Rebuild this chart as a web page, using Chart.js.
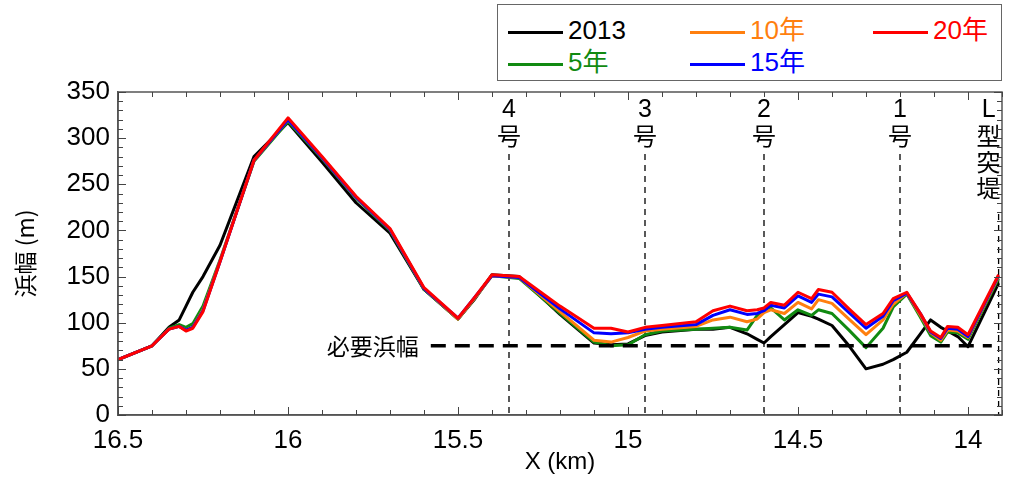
<!DOCTYPE html>
<html>
<head>
<meta charset="utf-8">
<script src="https://cdn.jsdelivr.net/npm/chart.js@4"></script>
<style>
    body { margin: 0; background: #fff; }
    #wrap { position: relative; width: 1011px; height: 486px; }
    #legend {
        position: absolute; left: 497px; top: 4px; width: 505px; height: 77px;
        border: 1.5px solid #666; box-sizing: border-box; background: #fff;
        font-family: 'Liberation Sans', Arial, 'Noto Sans CJK JP', sans-serif; font-size: 26px;
    }
    .item { position: absolute; height: 30px; line-height: 30px; white-space: nowrap; }
    .item .swatch { display: inline-block; width: 55px; height: 0; border-top: 3px solid; vertical-align: middle; margin-right: 5px; }
</style>
</head>
<body>
<div id="wrap">
    <canvas id="chart" width="1011" height="486"></canvas>
    <div id="legend"></div>
</div>
<script>
// Données (X en km, largeur de plage en m)
const xKm = [16.5, 16.4, 16.35, 16.32, 16.3, 16.28, 16.25, 16.2, 16.1, 16.0, 15.9, 15.8, 15.7, 15.6, 15.5, 15.45, 15.4, 15.32,
    15.2, 15.1, 15.05, 15.0, 14.95, 14.9, 14.8, 14.75, 14.7, 14.65, 14.62, 14.6, 14.58, 14.54, 14.5, 14.46, 14.44, 14.4, 14.35, 14.3,
    14.25, 14.22, 14.18, 14.14, 14.11, 14.08, 14.06, 14.03, 14.0, 13.91];

const width2013 = [60, 75, 95, 103, 118, 133, 150, 184, 280, 317, 274, 230, 197, 136, 104, 126, 152, 150,
    109, 78, 76, 77, 86, 90, 93, 93, 95, 88, 82, 78, 85, 98, 111, 107, 104, 97, 75, 50,
    55, 60, 68, 88, 103, 95, 91, 85, 74, 143];
const width5y = [60, 75, 94, 98, 95, 99, 118, 168, 275, 318, 278, 235, 200, 136, 104, 127, 151, 148,
    110, 79, 75, 76, 87, 91, 93, 94, 95, 92, 108, 115, 116, 103, 114, 108, 114, 110, 92, 73,
    94, 117, 131, 106, 86, 79, 90, 89, 82, 148];
const width10y = [60, 75, 93, 96, 92, 95, 114, 167, 276, 320, 279, 236, 201, 137, 104, 127, 151, 149,
    112, 81, 79, 84, 91, 93, 96, 103, 106, 101, 104, 111, 114, 110, 122, 115, 125, 121, 104, 87,
    103, 120, 132, 108, 89, 81, 92, 91, 84, 150];
const width15y = [60, 75, 93, 96, 92, 95, 113, 166, 276, 320, 279, 236, 201, 137, 105, 128, 151, 149,
    115, 89, 88, 89, 93, 95, 98, 108, 114, 109, 110, 113, 119, 116, 129, 122, 131, 128, 111, 94,
    107, 124, 132, 110, 90, 83, 94, 93, 85, 151];
const width20y = [60, 75, 93, 96, 91, 94, 112, 166, 276, 322, 280, 237, 202, 138, 105, 128, 152, 150,
    118, 94, 94, 90, 95, 97, 101, 113, 118, 113, 114, 116, 122, 119, 133, 126, 136, 133, 115, 98,
    110, 126, 133, 110, 91, 84, 96, 95, 87, 152];

const xTickValues = [16.5, 16, 15.5, 15, 14.5, 14];

// Largeur nécessaire
const requiredLabel = '必要浜幅';
const requiredKm = [15.58, 13.93];
const requiredWidth = 75;

// Ouvrages (épis)
const structKm = [15.35, 14.95, 14.6, 14.2, 13.91];
const structLabels = [['4', '号'], ['3', '号'], ['2', '号'], ['1', '号'], ['L', '型', '突', '堤']];

const series = [
    { label: '2013', data: width2013, color: '#000000', order: 5 },
    { label: '5年', data: width5y, color: '#118a11', order: 4 },
    { label: '10年', data: width10y, color: '#ff7f0f', order: 3 },
    { label: '15年', data: width15y, color: '#0000ff', order: 2 },
    { label: '20年', data: width20y, color: '#ff0000', order: 1 }
];

const FONT_LATIN = "'Liberation Sans', Arial, sans-serif";
const FONT_JP = "'Noto Sans CJK JP', 'Liberation Sans', sans-serif";

// Cadre, graduations internes et annotations
const framePlugin = {
    id: 'frame',
    beforeDatasetsDraw(chart) {
        const { ctx, chartArea: a, scales: { x, y } } = chart;
        ctx.save();
        // lignes verticales des ouvrages
        ctx.strokeStyle = '#000';
        ctx.lineWidth = 1.3;
        ctx.setLineDash([6, 5]);
        structKm.forEach((km, i) => {
            const px = x.getPixelForValue(km);
            const startY = structLabels[i].length > 2 ? 214 : 154;
            ctx.beginPath();
            ctx.moveTo(px, startY);
            ctx.lineTo(px, a.bottom);
            ctx.stroke();
        });
        ctx.setLineDash([]);
        ctx.fillStyle = '#000';
        ctx.textAlign = 'center';
        ctx.textBaseline = 'middle';
        structKm.forEach((km, i) => {
            // le libellé du突堤 est décalé pour rester dans le cadre
            const px = x.getPixelForValue(km) - (structLabels[i].length > 2 ? 10 : 0);
            structLabels[i].forEach((ch, j) => {
                const isLatin = /[0-9A-Z]/.test(ch);
                ctx.font = isLatin ? '25px ' + FONT_LATIN : '24px ' + FONT_JP;
                ctx.fillText(ch, px, 110 + j * 26);
            });
        });
        // libellé largeur nécessaire
        ctx.font = '23px ' + FONT_JP;
        ctx.textAlign = 'right';
        ctx.fillText(requiredLabel, x.getPixelForValue(requiredKm[0]) - 12, y.getPixelForValue(requiredWidth));
        ctx.restore();
    },
    afterDraw(chart) {
        const { ctx, chartArea: a, scales: { x, y } } = chart;
        ctx.save();
        ctx.strokeStyle = '#555';
        ctx.lineWidth = 1.5;
        ctx.strokeRect(a.left, a.top, a.right - a.left, a.bottom - a.top);
        ctx.strokeStyle = '#444';
        ctx.lineWidth = 1;
        ctx.beginPath();
        for (let v = 0; v <= 350; v += 10) {
            const py = Math.round(y.getPixelForValue(v)) + 0.5;
            const len = v % 50 === 0 ? 8 : 5;
            ctx.moveTo(a.left, py); ctx.lineTo(a.left + len, py);
            ctx.moveTo(a.right, py); ctx.lineTo(a.right - len, py);
        }
        for (let k = 139; k <= 165; k++) {
            const px = Math.round(x.getPixelForValue(k / 10)) + 0.5;
            const len = k % 5 === 0 ? 8 : 5;
            ctx.moveTo(px, a.bottom); ctx.lineTo(px, a.bottom - len);
            ctx.moveTo(px, a.top); ctx.lineTo(px, a.top + len);
        }
        ctx.stroke();
        ctx.restore();
    }
};

const datasets = series.map(s => ({
    label: s.label,
    data: xKm.map((km, i) => ({ x: km, y: s.data[i] })),
    borderColor: s.color,
    borderWidth: 3,
    pointRadius: 0,
    tension: 0,
    borderJoinStyle: 'round',
    order: s.order
}));

datasets.push({
    label: requiredLabel,
    data: requiredKm.map(km => ({ x: km, y: requiredWidth })),
    borderColor: '#000',
    borderWidth: 3.5,
    borderDash: [15, 9],
    pointRadius: 0,
    order: 0
});

new Chart(document.getElementById('chart'), {
    type: 'line',
    data: { datasets: datasets },
    plugins: [framePlugin],
    options: {
        responsive: false,
        animation: false,
        layout: { padding: { top: 92, right: 9, left: 0, bottom: 0 } },
        plugins: { legend: { display: false }, tooltip: { enabled: false } },
        scales: {
            x: {
                type: 'linear',
                reverse: true,
                min: 13.9,
                max: 16.5,
                afterBuildTicks: scale => { scale.ticks = xTickValues.map(v => ({ value: v })); },
                afterFit: scale => { scale.height = 71; },
                grid: { display: false, drawTicks: false },
                border: { display: true, color: '#555', width: 1.5 },
                ticks: {
                    autoSkip: false, maxRotation: 0, padding: 10, color: '#000',
                    font: { family: FONT_LATIN, size: 26 },
                    callback: v => String(v)
                },
                title: {
                    display: true, text: 'X (km)', color: '#000',
                    font: { family: FONT_LATIN, size: 24 },
                    padding: { top: 0, bottom: 9 }
                }
            },
            y: {
                min: 0,
                max: 350,
                afterFit: scale => { scale.width = 118; },
                grid: { display: false, drawTicks: false },
                border: { display: true, color: '#555', width: 1.5 },
                ticks: {
                    stepSize: 50, padding: 8, color: '#000',
                    font: { family: FONT_LATIN, size: 26 }
                },
                title: {
                    display: true, text: '浜幅 (m)', color: '#000',
                    font: { family: FONT_JP, size: 23 },
                    padding: { top: 11, bottom: 0 }
                }
            }
        }
    }
});

// Légende HTML (deux lignes, ordre par colonnes)
const legendPos = [
    { left: 10, top: 10 }, { left: 10, top: 42 },
    { left: 192, top: 10 }, { left: 192, top: 42 },
    { left: 375, top: 10 }
];
const legend = document.getElementById('legend');
series.forEach((s, i) => {
    const item = document.createElement('div');
    item.className = 'item';
    item.style.left = legendPos[i].left + 'px';
    item.style.top = legendPos[i].top + 'px';
    item.style.color = s.color;
    item.innerHTML = '<span class="swatch" style="border-color:' + s.color + '"></span>' + s.label;
    legend.appendChild(item);
});
</script>
</body>
</html>
